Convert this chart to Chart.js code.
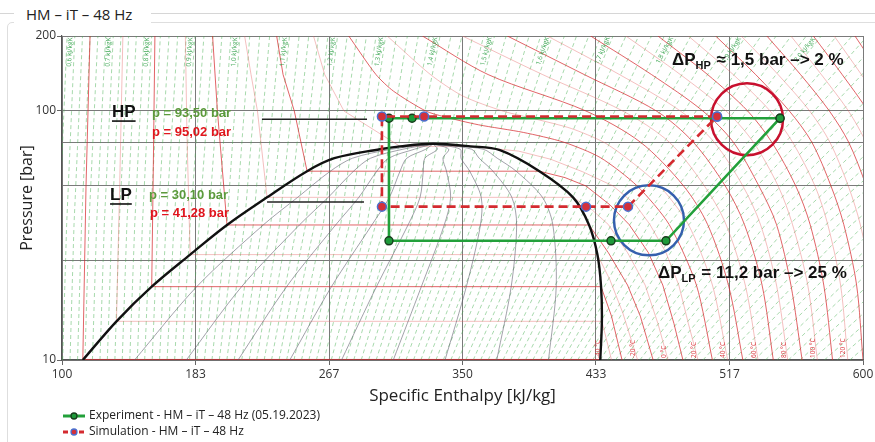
<!DOCTYPE html>
<html>
<head>
<meta charset="utf-8">
<title>HM – iT – 48 Hz</title>
<script src="https://cdn.jsdelivr.net/npm/chart.js@4.4.1/dist/chart.umd.min.js"></script>
<style>
  html, body { margin: 0; padding: 0; background: #fff; }
  #frame { position: relative; width: 875px; height: 442px; overflow: hidden; }
  #ruleA { position: absolute; left: 0; top: 13px; width: 14px; border-top: 1px solid #d6d6d6; }
  #ruleB { position: absolute; left: 151px; top: 13px; right: 0; border-top: 1px solid #d6d6d6; }
  #box { position: absolute; left: 7px; top: 22px; width: 900px; height: 460px; border: 1px solid #dedede; border-radius: 5px; }
  #caption { position: absolute; left: 14px; top: 3px; width: 137px; height: 22px; padding-left: 12px; box-sizing: border-box;
             background: #fff; font: 15px "Open Sans", sans-serif; color: #222; line-height: 22px; }
  #plot { position: absolute; left: 0; top: 0; width: 875px; height: 442px; }
</style>
</head>
<body>
<div id="frame">
  <div id="ruleA"></div><div id="ruleB"></div><div id="box"></div>
  <div id="caption">HM – iT – 48 Hz</div>
  <div id="plot"><canvas id="chart"></canvas></div>
</div>
<script>
// log p-h diagram of CO2 with the measured and the simulated cycle

const xTickValues = [100, 183.33, 266.67, 350, 433.33, 516.67, 600];
const xTickLabels = ["100", "183", "267", "350", "433", "517", "600"];
const yTickValues = [10, 25, 50, 75, 100, 200];
const yTickLabels = ["10", "", "", "", "100", "200"];

// cycles [kJ/kg], [bar]
const expH = [548.2, 318.5, 304.1, 304.1, 442.7, 477.0, 548.2];
const expP = [93.5, 93.5, 93.5, 30.1, 30.1, 30.1, 93.5];
const simH = [508.9, 326.0, 299.7, 299.7, 427.1, 453.3, 508.9];
const simP = [95.02, 95.02, 95.02, 41.28, 41.28, 41.28, 95.02];

// highlight rings and HP / LP marker lines
const ringH = [527.6, 466.4];
const ringP = [92.6, 36.4];
const hpMarkH = [224.8, 290.4];
const hpMarkP = [92.6, 92.6];
const lpMarkH = [228.0, 288.5];
const lpMarkP = [43.1, 43.1];

// saturation dome
const domeH = [113, 134, 156, 180, 203, 228, 253, 270, 298.5, 311, 331.6, 355, 373.4, 398, 419, 429, 434.2, 436.5, 437, 436];
const domeP = [10, 14.3, 19.7, 26.5, 34.85, 45, 57.3, 64.6, 70.2, 72.1, 73.8, 72.1, 69.6, 57.3, 45, 34.85, 26.5, 19.7, 14.3, 10];

// vapour quality lines x = 0.1 ... 0.9
const qualityP = [10, 19.7, 34.85, 45, 57.3, 64.6, 70.2, 73.8];
const qualityH = [
  [145.3, 184.1, 225.6, 247.1, 267.5, 281.3, 305.7, 331.6],
  [177.6, 212.1, 248.2, 266.2, 282.0, 292.6, 312.8, 331.6],
  [209.9, 240.2, 270.8, 285.3, 296.5, 303.9, 320.0, 331.6],
  [242.2, 268.2, 293.4, 304.4, 311.0, 315.2, 327.1, 331.6],
  [274.5, 296.3, 316.0, 323.5, 325.5, 326.5, 334.3, 331.6],
  [306.8, 324.3, 338.6, 342.6, 340.0, 337.8, 341.4, 331.6],
  [339.1, 352.4, 361.2, 361.7, 354.5, 349.1, 348.6, 331.6],
  [371.4, 380.4, 383.8, 380.8, 369.0, 360.4, 355.7, 331.6],
  [403.7, 408.5, 406.4, 399.9, 383.5, 371.7, 362.9, 331.6]
];

// isotherms below the critical point, [h, p] from the top through the dome to 10 bar
const isoSubT = [-40, -30, -20, -10, 0, 10, 20, 30];
const isoSubLines = [
  [[117.5, 200], [115, 50], [113, 10.05], [436, 10.05]],
  [[138, 200], [136, 50], [134, 14.3], [437, 14.3], [440, 12], [443, 10]],
  [[158, 200], [157, 60], [156, 19.7], [436.5, 19.7], [443, 15], [449.6, 10]],
  [[177, 200], [178, 80], [180, 26.5], [434.2, 26.5], [442, 21], [450, 15.5], [459.3, 10]],
  [[194, 200], [197, 100], [203, 34.85], [429, 34.85], [441, 27], [453, 20], [461, 15], [469, 10]],
  [[214, 200], [218, 140], [222, 100], [228, 45], [419, 45], [431, 40], [441, 35], [453, 27], [464, 20], [472, 14], [478.3, 10]],
  [[234, 200], [238, 140], [245, 100], [253, 57.3], [398, 57.3], [414, 54], [427, 50], [442, 42], [454, 35], [466, 27], [475, 20], [482, 14], [487.6, 10]],
  [[257, 200], [264, 140], [276, 100], [311, 72.1], [355, 72.1], [385, 69], [405, 64], [425, 57], [444, 50], [458, 42], [467, 35], [477, 27], [485, 20], [491, 14], [497, 10]]
];
// isotherms close above the critical point
const isoNearT = [40, 50];
const isoNearLines = [
  [[279, 200], [296, 140], [307, 120], [327, 100], [338, 95], [360, 88], [388, 82], [413, 75], [436, 65], [459, 50], [479, 35], [496, 20], [506, 10]],
  [[303, 200], [330, 140], [350, 115], [375, 100], [395, 93], [418, 85], [438, 75], [452, 65], [473, 50], [491, 35], [506, 20], [515.5, 10]]
];
// supercritical isotherms on a common pressure list
const isoSupT = [60, 70, 80, 90, 100, 110, 120, 130, 140, 150, 160, 170, 180, 190, 200, 210, 220];
const isoSupP = [10, 20, 35, 50, 75, 100, 140, 200];
const isoSupH = [
  [525, 516, 503, 488, 461, 427, 366, 325],
  [534.5, 526.5, 514.5, 501, 479, 450, 400, 350],
  [544, 537, 526, 514, 494, 471, 426, 378],
  [553, 546, 536, 525, 507, 486, 448, 403],
  [562, 555, 546, 535, 519, 500, 468, 430],
  [571.5, 565.5, 556, 547, 531.5, 514.5, 486, 452],
  [581, 575.5, 567, 558, 543, 528, 503, 472],
  [590.5, 586, 578, 570, 556, 542, 519, 491],
  [600, 596, 588, 580, 568, 554, 533, 508],
  [610, 605.7, 598.3, 590.8, 579.3, 566.7, 547, 524],
  [620, 616, 609, 602, 591, 579, 561, 540],
  [630, 626, 619.6, 612.7, 601.8, 590.9, 574, 555],
  [640, 636, 630, 623, 613, 603, 587, 569],
  [650, 646, 640, 634, 624, 614.5, 599, 582],
  [660, 656, 650, 644, 635, 626, 611, 595],
  [670, 666, 660, 654, 646, 637, 623, 608],
  [680, 676, 670, 664, 656, 648, 635, 621]
];
const isoLabelText = ["-40 °C", "-20 °C", "0 °C", "20 °C", "40 °C", "60 °C", "80 °C", "100 °C", "120 °C"];
const isoLabelH = [427.7, 449.6, 469, 487.6, 506, 525, 544, 562, 581];

// isentropes [kJ/kgK], enthalpy at 10, 35 and 200 bar
const isentropeP = [10, 35, 200];
const isentropeS = [
  0.58, 0.60, 0.62, 0.64, 0.66, 0.68, 0.70, 0.72, 0.74, 0.76,
  0.78, 0.80, 0.82, 0.84, 0.86, 0.88, 0.90, 0.92, 0.94, 0.96,
  0.98, 1.00, 1.02, 1.04, 1.06, 1.08, 1.10, 1.12, 1.14, 1.16,
  1.18, 1.20, 1.22, 1.24, 1.26, 1.28, 1.30, 1.32, 1.34, 1.36,
  1.38, 1.40, 1.42, 1.44, 1.46, 1.48, 1.50, 1.52, 1.54, 1.56,
  1.58, 1.60, 1.62, 1.64, 1.66, 1.68, 1.70, 1.72, 1.74, 1.76,
  1.78, 1.80, 1.82, 1.84, 1.86, 1.88, 1.90, 1.92, 1.94, 1.96,
  1.98, 2.00, 2.02, 2.04, 2.06, 2.08, 2.10, 2.12, 2.14, 2.16,
  2.18, 2.20, 2.22, 2.24, 2.26, 2.28, 2.30, 2.32, 2.34, 2.36,
  2.38, 2.40, 2.42, 2.44, 2.46, 2.48, 2.50, 2.52, 2.54, 2.56
];
const isentropeH10 = [
  95.7, 100.4, 105.0, 109.7, 114.3, 119.0, 123.7, 128.3, 133.0, 137.6,
  142.3, 147.0, 151.6, 156.3, 160.9, 165.6, 170.3, 174.9, 179.6, 184.2,
  188.9, 193.6, 198.2, 202.9, 207.5, 212.2, 216.9, 221.5, 226.2, 230.8,
  235.5, 240.2, 244.8, 249.5, 254.1, 258.8, 263.5, 268.1, 272.8, 277.4,
  282.1, 286.8, 291.4, 296.1, 300.7, 305.4, 310.1, 314.7, 319.4, 324.0,
  328.7, 333.4, 338.0, 342.7, 347.3, 352.0, 356.7, 361.3, 366.0, 370.6,
  375.3, 380.0, 384.6, 389.3, 393.9, 398.6, 403.3, 407.9, 412.6, 417.2,
  421.9, 426.6, 431.2, 435.9, 440.7, 445.5, 450.5, 455.5, 460.7, 465.9,
  471.3, 476.8, 482.4, 488.2, 494.1, 500.1, 506.3, 512.5, 519.0, 525.6,
  532.3, 539.1, 546.2, 553.4, 560.7, 568.2, 575.9, 583.8, 591.8, 600.0
];
const isentropeH35 = [
  98.2, 102.9, 107.5, 112.2, 116.8, 121.6, 126.4, 131.1, 135.7, 140.5,
  145.4, 150.2, 155.1, 159.8, 164.9, 169.9, 175.0, 180.0, 185.6, 191.5,
  197.3, 203.0, 208.5, 213.9, 219.4, 224.8, 230.3, 235.8, 241.2, 246.7,
  252.1, 257.6, 263.1, 268.5, 274.0, 279.4, 284.9, 290.4, 295.8, 301.3,
  306.7, 312.2, 317.7, 323.1, 328.6, 334.0, 339.5, 345.0, 350.4, 355.9,
  361.3, 366.8, 372.3, 377.7, 383.2, 388.6, 394.1, 399.6, 405.0, 410.5,
  415.9, 421.4, 426.9, 431.7, 437.3, 442.9, 448.7, 454.5, 460.4, 466.4,
  472.5, 478.7, 485.0, 491.4, 497.9, 504.5, 511.3, 518.1, 525.0, 532.1,
  539.3, 546.5, 554.0, 561.5, 569.1, 576.9, 584.8, 592.8, 600.9, 609.2,
  617.6, 626.2, 634.9, 643.7, 652.6, 661.6, 670.8, 680.0, 689.4, 698.9
];
const isentropeH200 = [
  103.2, 108.0, 112.8, 117.6, 122.4, 127.2, 132.0, 136.8, 141.6, 146.4,
  151.2, 156.0, 161.4, 166.8, 172.2, 177.6, 183.0, 188.6, 194.2, 199.8,
  205.4, 211.0, 217.2, 223.4, 229.6, 235.8, 242.0, 248.0, 254.0, 260.0,
  266.0, 272.0, 278.0, 284.0, 290.0, 296.0, 302.0, 308.8, 315.6, 322.4,
  329.2, 336.0, 342.8, 349.6, 356.4, 363.2, 370.0, 377.2, 384.4, 391.6,
  398.8, 406.0, 413.6, 421.2, 428.8, 436.4, 444.0, 452.0, 460.0, 468.0,
  476.0, 484.0, 492.6, 501.2, 509.8, 518.4, 527.0, 536.4, 545.8, 555.2,
  564.6, 574.0, 583.6, 593.2, 602.8, 612.4, 622.0, 632.0, 642.0, 652.0,
  662.0, 672.0, 682.4, 692.8, 703.2, 713.6, 724.0, 734.8, 745.6, 756.4,
  767.2, 778.0, 789.2, 800.4, 811.6, 822.8, 834.0, 845.2, 856.4, 867.6
];

const GREEN = "#22a03a";
const RED = "#d42a2f";
const NOTE_GREEN = "#5c9a3c";
const NOTE_RED = "#e0161d";
const BOLD = "'Liberation Sans', Arial, sans-serif";

Chart.defaults.font.family = "'Open Sans', sans-serif";

const pts = (hs, ps) => hs.map((h, i) => ({ x: h, y: ps[i] }));
const pairs = list => list.map(([h, p]) => ({ x: h, y: p }));

function lineSet(data, color, width, dash, order, tension) {
	return {
		data: data,
		showLine: true,
		borderColor: color,
		borderWidth: width,
		borderDash: dash || [],
		pointRadius: 0,
		pointHoverRadius: 0,
		fill: false,
		tension: tension || 0,
		order: order
	};
}

const datasets = [];

isentropeS.forEach((s, i) => {
	datasets.push(lineSet(pts([isentropeH10[i], isentropeH35[i], isentropeH200[i]], isentropeP),
		"rgba(70,175,80,0.6)", 0.8, [4, 3], 9));
});

const isoColor = t => (t % 20 === 0) ? "rgba(214,40,45,0.72)" : "rgba(228,95,95,0.4)";
isoSubT.forEach((t, i) => datasets.push(lineSet(pairs(isoSubLines[i]), isoColor(t), 1, null, 8)));
isoNearT.forEach((t, i) => datasets.push(lineSet(pairs(isoNearLines[i]), isoColor(t), 1, null, 8, 0.25)));
isoSupT.forEach((t, i) => datasets.push(lineSet(pts(isoSupH[i], isoSupP), isoColor(t), 1, null, 8, 0.3)));

qualityH.forEach(row => datasets.push(lineSet(pts(row, qualityP), "rgba(95,95,110,0.65)", 0.9, null, 7, 0.3)));

datasets.push(lineSet(pts(domeH, domeP), "#111", 2.4, null, 6, 0.35));

datasets.push(lineSet(pts(hpMarkH, hpMarkP), "#222", 1.5, null, 5));
datasets.push(lineSet(pts(lpMarkH, lpMarkP), "#222", 1.5, null, 5));

datasets.push({
	data: pts(ringH, ringP),
	showLine: false,
	pointRadius: [36, 35],
	pointHoverRadius: [36, 35],
	pointBorderWidth: 2.5,
	pointBackgroundColor: "rgba(0,0,0,0)",
	pointBorderColor: ["#c8102e", "#3560ad"],
	order: 4
});

datasets.push({
	data: pts(expH, expP),
	showLine: true,
	borderColor: GREEN,
	borderWidth: 2.6,
	pointRadius: 4,
	pointHoverRadius: 4,
	pointBackgroundColor: "#1e9a3a",
	pointBorderColor: "#183d1d",
	pointBorderWidth: 1.4,
	order: 2
});

datasets.push({
	data: pts(simH, simP),
	showLine: true,
	borderColor: RED,
	borderWidth: 2.6,
	borderDash: [9, 5],
	pointRadius: 4.5,
	pointHoverRadius: 4.5,
	pointBackgroundColor: "#d3303a",
	pointBorderColor: "#4a70d0",
	pointBorderWidth: 1.5,
	order: 1
});

function drawDelta(ctx, x, y, sub, rest) {
	ctx.fillStyle = "#111";
	ctx.textAlign = "left";
	ctx.textBaseline = "alphabetic";
	ctx.font = "bold 17px " + BOLD;
	ctx.fillText("ΔP", x, y);
	let w = ctx.measureText("ΔP").width;
	ctx.font = "bold 11px " + BOLD;
	ctx.fillText(sub, x + w, y + 4);
	w += ctx.measureText(sub).width + 1;
	ctx.font = "bold 17px " + BOLD;
	ctx.fillText(rest, x + w, y);
}

const overlay = {
	id: "overlay",
	afterDatasetsDraw(chart) {
		const { ctx, chartArea: a } = chart;
		const sx = chart.scales.x, sy = chart.scales.y;

		ctx.save();
		ctx.beginPath();
		ctx.rect(a.left, a.top, a.right - a.left, a.bottom - a.top);
		ctx.clip();

		// isentrope labels along the lines near the top
		ctx.font = "6.5px 'Open Sans', sans-serif";
		ctx.fillStyle = "rgba(45,160,70,0.9)";
		isentropeS.forEach((s, i) => {
			if (Math.round(s * 100) % 10 !== 0 || s > 2.001) return;
			const x1 = sx.getPixelForValue(isentropeH35[i]), y1 = sy.getPixelForValue(35);
			const x2 = sx.getPixelForValue(isentropeH200[i]), y2 = sy.getPixelForValue(200);
			const yl = sy.getPixelForValue(172);
			const xl = x1 + (yl - y1) / (y2 - y1) * (x2 - x1);
			ctx.save();
			ctx.translate(xl, yl);
			ctx.rotate(Math.atan2(y2 - y1, x2 - x1));
			ctx.textAlign = "center";
			ctx.textBaseline = "bottom";
			ctx.fillText(s.toFixed(1).replace(".", ",") + " kJ/kgK", 0, -1);
			ctx.restore();
		});

		// isotherm labels at the bottom
		ctx.fillStyle = "rgba(215,40,45,0.9)";
		isoLabelText.forEach((t, i) => {
			ctx.save();
			ctx.translate(sx.getPixelForValue(isoLabelH[i]) + 11, a.bottom - 2);
			ctx.rotate(-Math.PI / 2);
			ctx.textAlign = "left";
			ctx.textBaseline = "middle";
			ctx.fillText(t, 0, 0);
			ctx.restore();
		});
		ctx.restore();

		// HP / LP notes
		ctx.save();
		ctx.textAlign = "left";
		ctx.textBaseline = "middle";
		const put = (text, h, p, font, color) => {
			ctx.font = font;
			ctx.fillStyle = color;
			const x = sx.getPixelForValue(h), y = sy.getPixelForValue(p);
			ctx.fillText(text, x, y);
			return { x: x, y: y, w: ctx.measureText(text).width };
		};
		[["HP", 131.2, 98.8], ["LP", 130.0, 45.9]].forEach(([t, h, p]) => {
			const r = put(t, h, p, "bold 17px " + BOLD, "#111");
			ctx.fillRect(r.x, r.y + 8, r.w, 1.6);
		});
		put("p = 93,50 bar", 156.2, 97.9, "bold 13px " + BOLD, NOTE_GREEN);
		put("p = 95,02 bar", 156.2, 82.2, "bold 13px " + BOLD, NOTE_RED);
		put("p = 30,10 bar", 154.3, 45.9, "bold 13px " + BOLD, NOTE_GREEN);
		put("p = 41,28 bar", 154.9, 38.9, "bold 13px " + BOLD, NOTE_RED);

		drawDelta(ctx, sx.getPixelForValue(480.8), sy.getPixelForValue(152.7), "HP", " ≈ 1,5 bar –> 2 %");
		drawDelta(ctx, sx.getPixelForValue(472.0), sy.getPixelForValue(21.3), "LP", " = 11,2 bar –> 25 %");
		ctx.restore();
	},
	afterDraw(chart) {
		const { ctx, chartArea: a } = chart;
		ctx.save();
		ctx.fillStyle = "#222";
		ctx.textAlign = "center";
		ctx.textBaseline = "middle";
		ctx.font = "17px 'Open Sans', sans-serif";
		ctx.fillText("Specific Enthalpy [kJ/kg]", (a.left + a.right) / 2, 396);
		ctx.save();
		ctx.translate(27, (a.top + a.bottom) / 2);
		ctx.rotate(-Math.PI / 2);
		ctx.font = "16px 'Open Sans', sans-serif";
		ctx.fillText("Pressure [bar]", 0, 0);
		ctx.restore();

		// legend
		const rows = [
			{ y: 416, text: "Experiment - HM – iT – 48 Hz (05.19.2023)", line: GREEN, dash: [], dot: "#1e9a3a", ring: "#183d1d" },
			{ y: 432, text: "Simulation - HM – iT – 48 Hz", line: RED, dash: [5, 3], dot: "#d3303a", ring: "#4a70d0" }
		];
		rows.forEach(r => {
			ctx.strokeStyle = r.line;
			ctx.lineWidth = 3;
			ctx.setLineDash(r.dash);
			ctx.beginPath();
			ctx.moveTo(63, r.y);
			ctx.lineTo(85, r.y);
			ctx.stroke();
			ctx.setLineDash([]);
			ctx.fillStyle = r.dot;
			ctx.strokeStyle = r.ring;
			ctx.lineWidth = 1.3;
			ctx.beginPath();
			ctx.arc(74, r.y, 3, 0, Math.PI * 2);
			ctx.fill();
			ctx.stroke();
			ctx.fillStyle = "#222";
			ctx.textAlign = "left";
			ctx.font = "12px 'Open Sans', sans-serif";
			ctx.fillText(r.text, 89, r.y);
		});
		ctx.restore();
	}
};

// fixed axis boxes: the plot area is set by the layout padding alone
const fixX = axis => {
	axis.height = 82;
	axis.paddingLeft = 0;
	axis.paddingRight = 0;
};
const fixY = axis => {
	axis.width = 62;
	axis.paddingTop = 0;
	axis.paddingBottom = 0;
};

new Chart(document.getElementById("chart"), {
	type: "scatter",
	data: { datasets: datasets },
	options: {
		responsive: true,
		maintainAspectRatio: false,
		animation: false,
		events: [],
		// the big ring markers must not widen the layout
		layout: { autoPadding: false, padding: { left: 0, right: 12, top: 36, bottom: 0 } },
		plugins: { legend: { display: false }, tooltip: { enabled: false } },
		scales: {
			x: {
				type: "linear",
				min: 100,
				max: 600,
				afterBuildTicks: axis => { axis.ticks = xTickValues.map(v => ({ value: v })); },
				afterFit: fixX,
				ticks: {
					autoSkip: false,
					maxRotation: 0,
					padding: 2,
					color: "#333",
					font: { size: 12 },
					callback: (v, i) => xTickLabels[i]
				},
				grid: { color: "#7a7a7a", lineWidth: 1, tickLength: 5, tickColor: "#666" },
				border: { color: "#555", width: 1.2 }
			},
			y: {
				type: "logarithmic",
				min: 10,
				max: 200,
				afterBuildTicks: axis => { axis.ticks = yTickValues.map(v => ({ value: v })); },
				afterFit: fixY,
				ticks: {
					autoSkip: false,
					padding: 1,
					color: "#333",
					font: { size: 12 },
					callback: (v, i) => yTickLabels[i]
				},
				grid: {
					color: "#7a7a7a",
					lineWidth: 1,
					tickLength: 5,
					tickColor: c => yTickLabels[c.index] ? "#666" : "rgba(0,0,0,0)"
				},
				border: { color: "#555", width: 1.2 }
			}
		}
	},
	plugins: [overlay]
});
</script>
</body>
</html>
